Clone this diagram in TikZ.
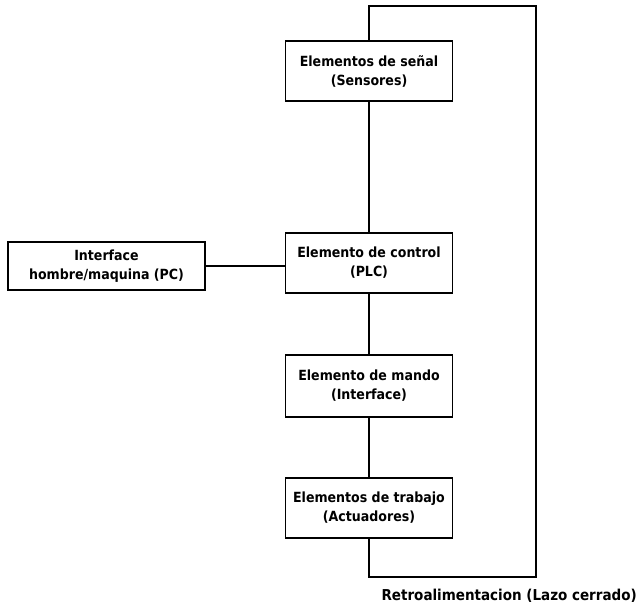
\documentclass[tikz,border=0pt]{standalone}
\usepackage{fontspec}
\setmainfont{DejaVu Sans Condensed}
\begin{document}
\begin{tikzpicture}[x=1pt,y=-1pt,
  blk/.style={draw,line width=1.8pt,minimum width=#1,inner sep=0pt,align=center,font=\bfseries\fontsize{14}{19}\selectfont},
  ln/.style={line width=1.8pt}]
\useasboundingbox (0,0) rectangle (639,605);
\node[blk=167pt,minimum height=60pt] (sens) at (369,71) {Elementos de señal\\(Sensores)};
\node[blk=167pt,minimum height=60pt] (plc) at (369,263) {Elemento de control\\(PLC)};
\node[blk=167pt,minimum height=62pt] (mando) at (369,386) {Elemento de mando\\(Interface)};
\node[blk=167pt,minimum height=60pt] (trab) at (369,508) {Elementos de trabajo\\(Actuadores)};
\node[blk=197pt,minimum height=48pt] (pc) at (106.5,266) {Interface\\hombre/maquina (PC)};
\coordinate (tl) at (369,6);
\coordinate (tr) at (536,6);
\coordinate (br) at (536,577);
\coordinate (bl) at (369,577);
\draw[ln] (sens.north) -- (tl) -- (tr) -- (br) -- (bl) -- (trab.south);
\draw[ln] (sens.south) -- (plc.north);
\draw[ln] (plc.south) -- (mando.north);
\draw[ln] (mando.south) -- (trab.north);
\draw[ln] (pc.east) -- (pc.east -| plc.west);
\node[font=\bfseries\fontsize{15}{16}\selectfont,anchor=east,inner sep=0pt] (lbl) at (637,596) {Retroalimentacion (Lazo cerrado)};
\end{tikzpicture}
\end{document}
